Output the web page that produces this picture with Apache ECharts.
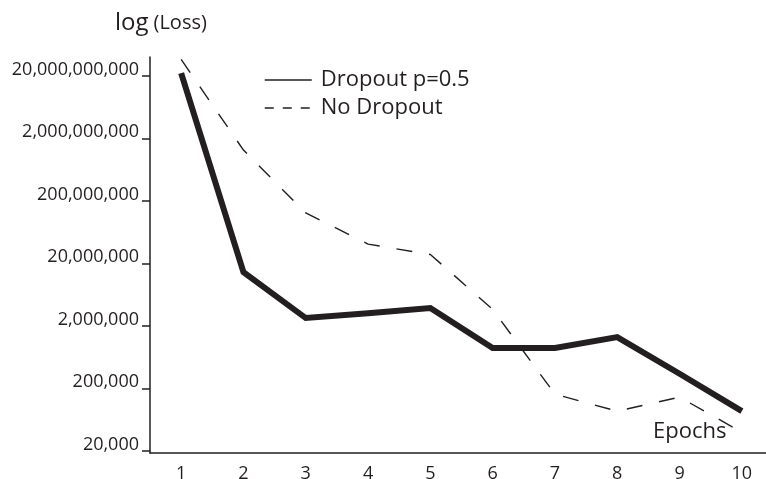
<!DOCTYPE html>
<html>
<head>
<meta charset="utf-8">
<script src="https://cdn.jsdelivr.net/npm/echarts@6/dist/echarts.min.js"></script>
<style>
  html, body { margin: 0; padding: 0; background: #fff; }
  #chart { width: 766px; height: 479px; }
</style>
</head>
<body>
<div id="chart"></div>
<script>
// epochs on the x axis
const epochs = ['1', '2', '3', '4', '5', '6', '7', '8', '9', '10'];
// loss per epoch
const dropoutLoss = [2.23e10, 1.46e7, 2.69e6, 3.2e6, 3.88e6, 8.9e5, 8.9e5, 1.33e6, 3.45e5, 8.7e4];
const noDropoutLoss = [3.7e10, 1.31e9, 1.29e8, 4.1e7, 2.8e7, 3.7e6, 1.63e5, 8.7e4, 1.46e5, 4.0e4];
// y tick labels
const yTicks = [2e4, 2e5, 2e6, 2e7, 2e8, 2e9, 2e10];

const ink = '#231f20';
const font = '"Open Sans", "Noto Sans", sans-serif';

const chart = echarts.init(document.getElementById('chart'));

chart.setOption({
    animation: false,
    backgroundColor: '#fff',
    color: [ink, ink],
    title: [{
        text: '{a|log} {b|(Loss)}',
        left: 110,
        top: 6,
        textStyle: {
            rich: {
                a: { fontFamily: font, fontSize: 24, fontWeight: 'normal', color: ink },
                b: { fontFamily: font, fontSize: 20, fontWeight: 'normal', color: ink }
            }
        }
    }, {
        text: 'Epochs',
        left: 648,
        top: 416,
        textStyle: { fontFamily: font, fontSize: 22, fontWeight: 'normal', color: ink }
    }],
    legend: {
        orient: 'vertical',
        left: 259,
        top: 64,
        itemWidth: 47,
        itemHeight: 14,
        itemGap: 6,
        itemStyle: { opacity: 0 },
        textStyle: { fontFamily: font, fontSize: 22, color: ink, padding: [0, 0, 0, 4] },
        data: [
            { name: 'Dropout p=0.5', lineStyle: { width: 1.5, type: 'solid' } },
            { name: 'No Dropout', lineStyle: { width: 1.5, type: [9, 9] } }
        ]
    },
    grid: { left: 150, top: 57, bottom: 26, right: -7, containLabel: false, outerBoundsMode: 'none' },
    xAxis: {
        type: 'category',
        data: epochs,
        axisLine: { lineStyle: { color: ink, width: 1.5 } },
        axisTick: { length: 8, lineStyle: { color: ink, width: 1.5 } },
        axisLabel: { fontFamily: font, fontSize: 18, color: ink, margin: 12 },
        splitLine: { show: false }
    },
    yAxis: {
        type: 'log',
        logBase: 10,
        min: 18640,
        max: 4.04e10,
        axisLine: { show: true, lineStyle: { color: ink, width: 1.5 } },
        axisTick: { show: true, length: 8, customValues: yTicks, lineStyle: { color: ink, width: 1.5 } },
        axisLabel: {
            fontFamily: font, fontSize: 18, color: ink, margin: 11,
            customValues: yTicks,
            verticalAlign: 'bottom',
            lineHeight: 13,
            formatter: v => Number(v).toLocaleString('en-US')
        },
        splitLine: { show: false }
    },
    series: [{
        name: 'Dropout p=0.5',
        type: 'line',
        data: dropoutLoss,
        symbol: 'none',
        lineStyle: { color: ink, width: 6, join: 'miter', cap: 'butt' }
    }, {
        name: 'No Dropout',
        type: 'line',
        data: noDropoutLoss,
        symbol: 'none',
        lineStyle: { color: ink, width: 1.4, type: [16, 17] }
    }]
});
</script>
</body>
</html>
